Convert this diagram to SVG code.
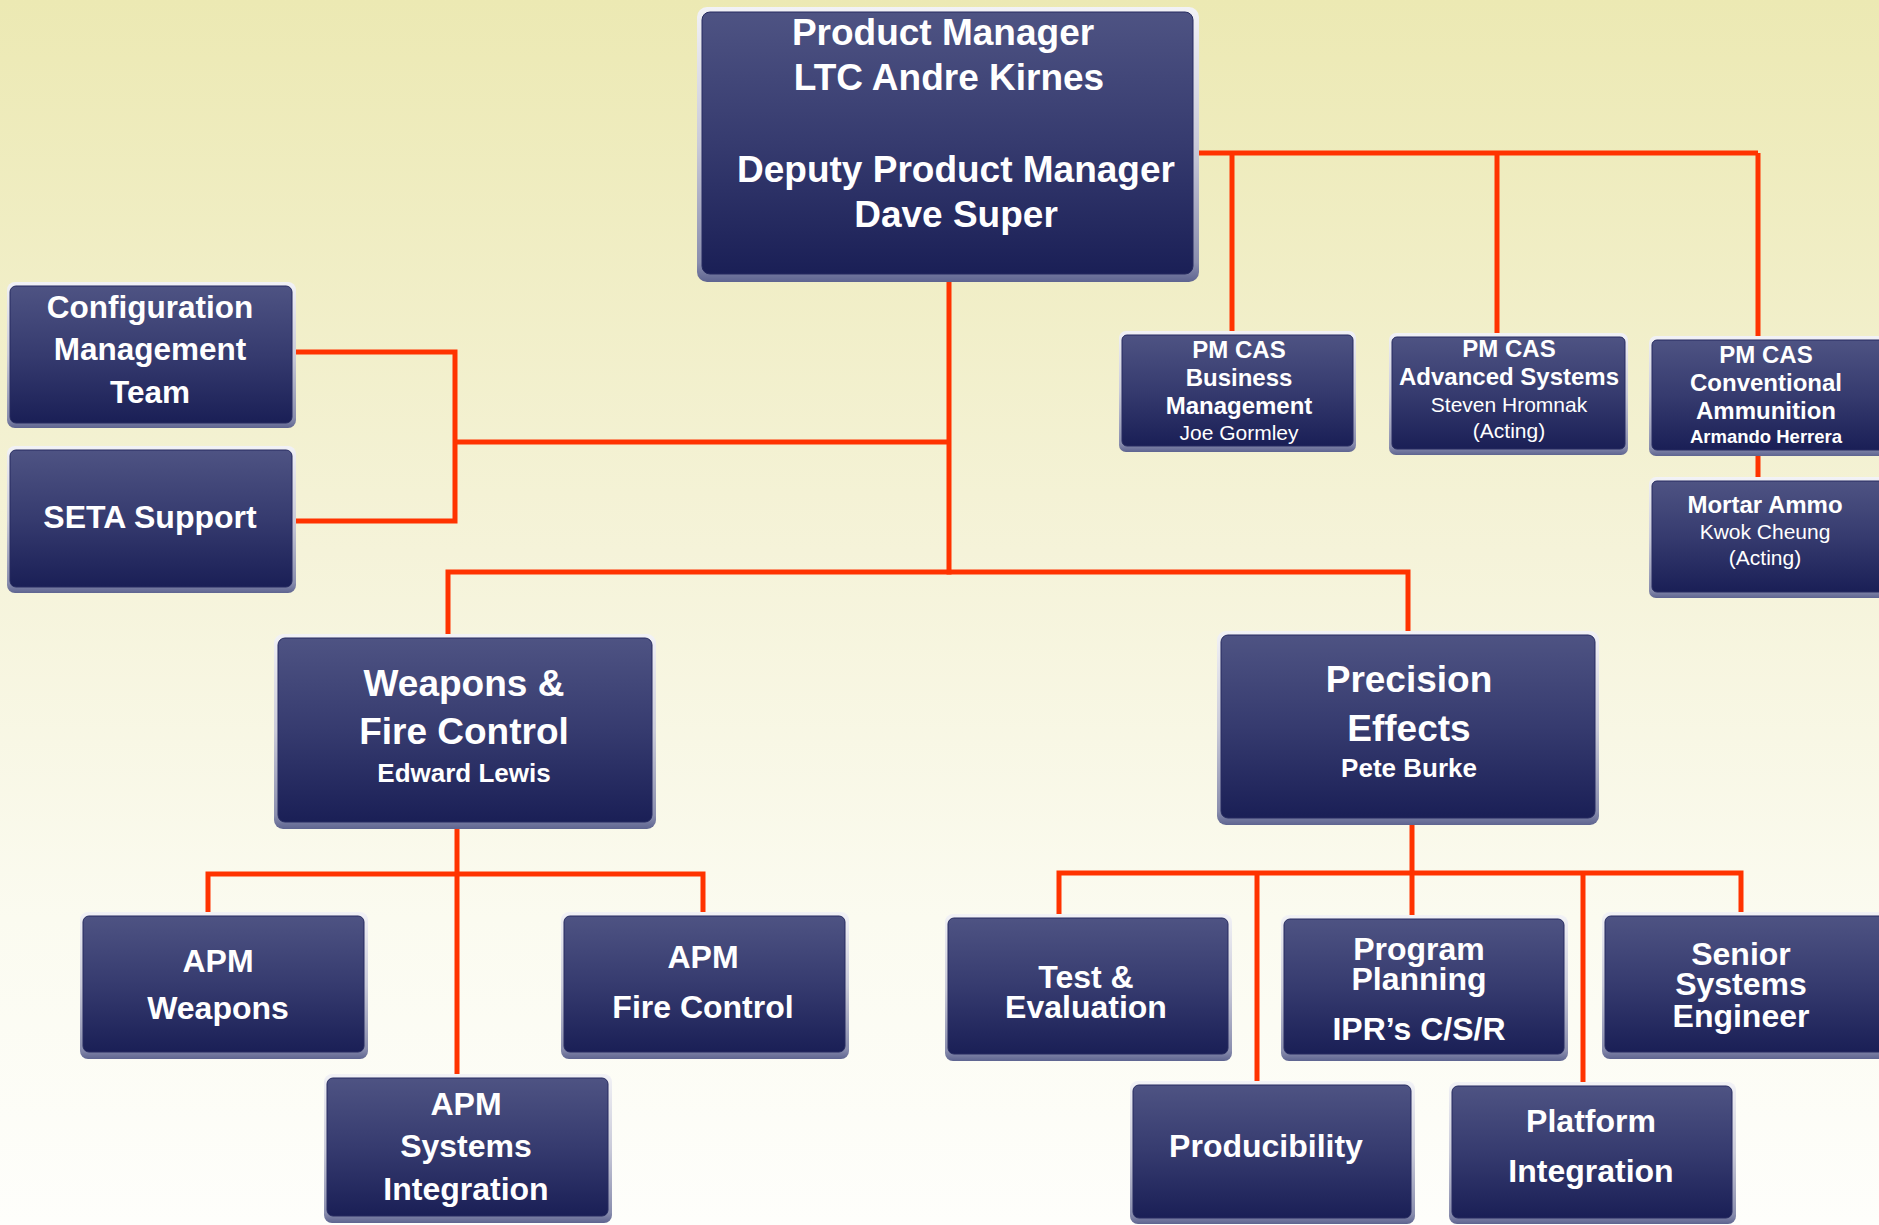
<svg xmlns="http://www.w3.org/2000/svg" width="1879" height="1225" viewBox="0 0 1879 1225">
<defs>
<linearGradient id="bg" x1="0" y1="0" x2="0" y2="1">
<stop offset="0" stop-color="#ECE9B3"/>
<stop offset="0.45" stop-color="#F5F3D9"/>
<stop offset="0.75" stop-color="#FBFBF0"/>
<stop offset="1" stop-color="#FEFEFB"/>
</linearGradient>
<linearGradient id="body" x1="0" y1="0" x2="0" y2="1">
<stop offset="0" stop-color="#4E5383"/>
<stop offset="0.5" stop-color="#363B6F"/>
<stop offset="1" stop-color="#1A1F56"/>
</linearGradient>
<linearGradient id="rim" x1="0" y1="0" x2="0" y2="1">
<stop offset="0" stop-color="#F2F2F6"/>
<stop offset="0.5" stop-color="#C9CAD9"/>
<stop offset="0.93" stop-color="#8A8EAE"/>
<stop offset="1" stop-color="#5E6490"/>
</linearGradient>
<style>
.rim{fill:url(#rim)}
.body{fill:url(#body);stroke:#262B60;stroke-width:1}
text{font-family:"Liberation Sans",Arial,sans-serif;fill:#FFFFFF;text-anchor:middle}
.b{font-weight:bold}
.t37{font-size:37px;font-weight:bold}
.t32{font-size:32px;font-weight:bold}
.t31{font-size:31.5px;font-weight:bold}
.t26{font-size:26px;font-weight:bold}
.t24{font-size:24px;font-weight:bold}
.r21{font-size:21px}
.t18{font-size:18.5px;font-weight:bold}
.conn{fill:none;stroke:#FF3300;stroke-width:5;stroke-linejoin:miter;stroke-linecap:butt}
</style>
</defs>
<rect x="0" y="0" width="1879" height="1225" fill="url(#bg)"/>

<g id="connectors">
<path class="conn" d="M1198 153 H1758 M1232 153 V334 M1497 153 V336 M1758 153 V339"/>
<path class="conn" d="M1758 452 V482"/>
<path class="conn" d="M949 276 V574.5 M455 442 H949 M293 352 H455 V521 H293"/>
<path class="conn" d="M448 636 V572 H1408 V633"/>
<path class="conn" d="M457 824 V1078 M208 915 V874 H703 V915"/>
<path class="conn" d="M1412 821 V915 M1059 918 V873 H1741 V916 M1257 873 V1085 M1583 873 V1086"/>
</g>

<g id="pm">
<rect class="rim" x="697" y="7" width="502" height="275" rx="10"/>
<rect class="body" x="702" y="12" width="491" height="262" rx="8"/>
<text class="t37" x="943" y="45">Product Manager</text>
<text class="t37" x="949" y="90">LTC Andre Kirnes</text>
<text class="t37" x="956" y="182">Deputy Product Manager</text>
<text class="t37" x="956" y="227">Dave Super</text>
</g>

<g id="config">
<rect class="rim" x="7" y="282" width="289" height="146" rx="8"/>
<rect class="body" x="10" y="286" width="282" height="137" rx="6"/>
<text class="t31" x="150" y="318">Configuration</text>
<text class="t31" x="150" y="360">Management</text>
<text class="t31" x="150" y="403">Team</text>
</g>

<g id="seta">
<rect class="rim" x="7" y="446" width="289" height="147" rx="8"/>
<rect class="body" x="10" y="450" width="282" height="137" rx="6"/>
<text class="t32" x="150" y="528">SETA Support</text>
</g>

<g id="business">
<rect class="rim" x="1119" y="331" width="237" height="121" rx="7"/>
<rect class="body" x="1122" y="335" width="231" height="111" rx="5"/>
<text class="t24" x="1239" y="358">PM CAS</text>
<text class="t24" x="1239" y="386">Business</text>
<text class="t24" x="1239" y="414">Management</text>
<text class="r21" x="1239" y="440">Joe Gormley</text>
</g>

<g id="advanced">
<rect class="rim" x="1389" y="333" width="239" height="122" rx="7"/>
<rect class="body" x="1392" y="337" width="233" height="112" rx="5"/>
<text class="t24" x="1509" y="357">PM CAS</text>
<text class="t24" x="1509" y="385">Advanced Systems</text>
<text class="r21" x="1509" y="412">Steven Hromnak</text>
<text class="r21" x="1509" y="438">(Acting)</text>
</g>

<g id="conventional">
<rect class="rim" x="1649" y="336" width="245" height="120" rx="7"/>
<rect class="body" x="1652" y="340" width="240" height="110" rx="5"/>
<text class="t24" x="1766" y="363">PM CAS</text>
<text class="t24" x="1766" y="391">Conventional</text>
<text class="t24" x="1766" y="419">Ammunition</text>
<text class="t18" x="1766" y="443">Armando Herrera</text>
</g>

<g id="mortar">
<rect class="rim" x="1649" y="477" width="245" height="121" rx="7"/>
<rect class="body" x="1652" y="481" width="240" height="111" rx="5"/>
<text class="t24" x="1765" y="513">Mortar Ammo</text>
<text class="r21" x="1765" y="539">Kwok Cheung</text>
<text class="r21" x="1765" y="565">(Acting)</text>
</g>

<g id="wfc">
<rect class="rim" x="274" y="634" width="382" height="195" rx="9"/>
<rect class="body" x="278" y="638" width="374" height="184" rx="7"/>
<text class="t37" x="464" y="696">Weapons &amp;</text>
<text class="t37" x="464" y="744">Fire Control</text>
<text class="t26" x="464" y="782">Edward Lewis</text>
</g>

<g id="pe">
<rect class="rim" x="1217" y="631" width="382" height="194" rx="9"/>
<rect class="body" x="1221" y="635" width="374" height="183" rx="7"/>
<text class="t37" x="1409" y="692">Precision</text>
<text class="t37" x="1409" y="741">Effects</text>
<text class="t26" x="1409" y="777">Pete Burke</text>
</g>

<g id="apm-weapons">
<rect class="rim" x="80" y="912" width="288" height="147" rx="8"/>
<rect class="body" x="83" y="916" width="281" height="136" rx="6"/>
<text class="t32" x="218" y="972">APM</text>
<text class="t32" x="218" y="1019">Weapons</text>
</g>

<g id="apm-fire-control">
<rect class="rim" x="561" y="912" width="288" height="147" rx="8"/>
<rect class="body" x="564" y="916" width="281" height="136" rx="6"/>
<text class="t32" x="703" y="968">APM</text>
<text class="t32" x="703" y="1018">Fire Control</text>
</g>

<g id="apm-si">
<rect class="rim" x="324" y="1074" width="288" height="149" rx="8"/>
<rect class="body" x="327" y="1078" width="281" height="138" rx="6"/>
<text class="t32" x="466" y="1115">APM</text>
<text class="t32" x="466" y="1157">Systems</text>
<text class="t32" x="466" y="1200">Integration</text>
</g>

<g id="test-eval">
<rect class="rim" x="945" y="914" width="287" height="147" rx="8"/>
<rect class="body" x="948" y="918" width="280" height="136" rx="6"/>
<text class="t32" x="1086" y="988">Test &amp;</text>
<text class="t32" x="1086" y="1018">Evaluation</text>
</g>

<g id="program-planning">
<rect class="rim" x="1281" y="915" width="287" height="146" rx="8"/>
<rect class="body" x="1284" y="919" width="280" height="135" rx="6"/>
<text class="t32" x="1419" y="960">Program</text>
<text class="t32" x="1419" y="990">Planning</text>
<text class="t32" x="1419" y="1040">IPR’s C/S/R</text>
</g>

<g id="senior">
<rect class="rim" x="1602" y="912" width="290" height="147" rx="8"/>
<rect class="body" x="1605" y="916" width="285" height="136" rx="6"/>
<text class="t32" x="1741" y="965">Senior</text>
<text class="t32" x="1741" y="995">Systems</text>
<text class="t32" x="1741" y="1027">Engineer</text>
</g>

<g id="producibility">
<rect class="rim" x="1130" y="1081" width="285" height="143" rx="8"/>
<rect class="body" x="1133" y="1085" width="278" height="133" rx="6"/>
<text class="t32" x="1266" y="1157">Producibility</text>
</g>

<g id="platform">
<rect class="rim" x="1449" y="1082" width="287" height="142" rx="8"/>
<rect class="body" x="1452" y="1086" width="280" height="132" rx="6"/>
<text class="t32" x="1591" y="1132">Platform</text>
<text class="t32" x="1591" y="1182">Integration</text>
</g>
</svg>
